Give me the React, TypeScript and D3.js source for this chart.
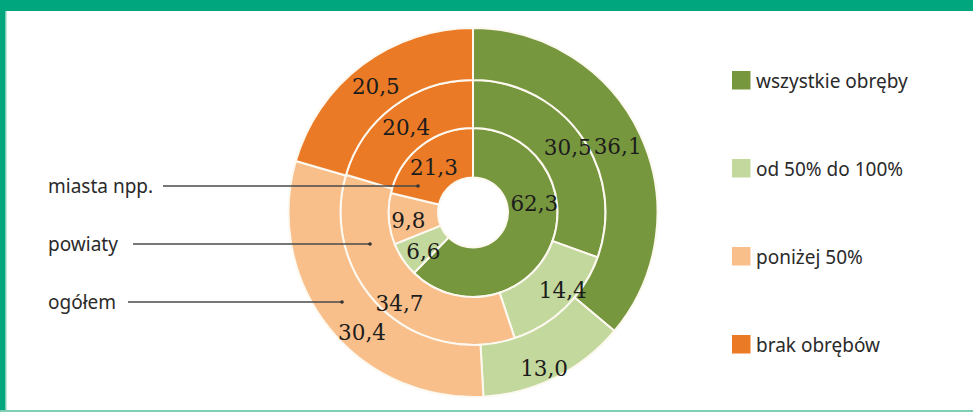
import React from "react";
import * as d3 from "d3";

const categories = ["wszystkie obręby", "od 50% do 100%", "poniżej 50%", "brak obrębów"];
const ringNames = ["miasta npp.", "powiaty", "ogółem"];
const miastaValues = [62.3, 6.6, 9.8, 21.3];
const powiatyValues = [30.5, 14.4, 34.7, 20.4];
const ogolemValues = [36.1, 13.0, 30.4, 20.5];
const colors = ["#77973f", "#c3d89d", "#f8bf8b", "#eb7a26"];

const W = 973;
const H = 412;
const cx = 473;
const cy = 212.5;
const radii = [35, 84.5, 132.5, 184.5];
// label nudges (px) by ring / slice, relative to arc centroid
const nudges: [number, number][][] = [
  [[6, -32], [0, 6], [-5, 3], [-2, 2]],
  [[6, -3], [14, 0], [2, 13], [-2, 2]],
  [[1, 1], [0, 14], [13, 21], [-2, 1]],
];

const fmt = (v: number) => v.toFixed(1).replace(".", ",");

export default function App() {
  const rings = [miastaValues, powiatyValues, ogolemValues];
  const pie = d3
    .pie<number>()
    .sort(null)
    .value((d) => d)
    .startAngle(0)
    .endAngle(2 * Math.PI);

  const leftLabels = [
    { name: ringNames[0], y: 186, x1: 163, x2: 418 },
    { name: ringNames[1], y: 244, x1: 133, x2: 370 },
    { name: ringNames[2], y: 302, x1: 128, x2: 342 },
  ];

  const legendY = d3.scalePoint<string>().domain(categories).range([80, 344]);

  return (
    <div style={{ position: "absolute", left: 0, top: 0 }}>
      <svg width={W} height={H} style={{ display: "block" }}>
        <rect x={0} y={0} width={W} height={H} fill="#ffffff" />
        <rect x={0} y={0} width={W} height={11} fill="#00a67e" />
        <rect x={0} y={0} width={5} height={H} fill="#00a67e" />
        <rect x={5} y={11} width={1.5} height={H - 11} fill="#7fcfb4" />
        <rect x={0} y={H - 2} width={W} height={2} fill="#7fcfb4" />

        <g transform={`translate(${cx},${cy})`}>
          {rings.map((vals, ri) => {
            const arc = d3
              .arc<d3.PieArcDatum<number>>()
              .innerRadius(radii[ri])
              .outerRadius(radii[ri + 1]);
            return (
              <g key={ri}>
                {pie(vals).map((a, i) => (
                  <path
                    key={i}
                    d={arc(a) || ""}
                    fill={colors[i]}
                    stroke="#fdf9f0"
                    strokeWidth={2}
                  />
                ))}
              </g>
            );
          })}
          {rings.map((vals, ri) => {
            const arc = d3
              .arc<d3.PieArcDatum<number>>()
              .innerRadius(radii[ri])
              .outerRadius(radii[ri + 1]);
            return (
              <g key={"l" + ri}>
                {pie(vals).map((a, i) => {
                  const [x, y] = arc.centroid(a);
                  const [dx, dy] = nudges[ri][i];
                  return (
                    <text
                      key={i}
                      x={x + dx}
                      y={y + dy}
                      textAnchor="middle"
                      dominantBaseline="central"
                      fontFamily="'DejaVu Serif', serif"
                      fontSize={21.5}
                      fill="#1c1c1c"
                    >
                      {fmt(a.data)}
                    </text>
                  );
                })}
              </g>
            );
          })}
        </g>

        {leftLabels.map((l) => (
          <g key={l.name}>
            <text
              x={48}
              y={l.y}
              dominantBaseline="central"
              fontFamily="'Noto Sans', sans-serif"
              fontSize={19}
              fill="#2a2a2a"
            >
              {l.name}
            </text>
            <line x1={l.x1} x2={l.x2} y1={l.y} y2={l.y} stroke="#4a4a4a" strokeWidth={1.3} />
            <circle cx={l.x2} cy={l.y} r={1.8} fill="#333" />
          </g>
        ))}

        {categories.map((c, i) => (
          <g key={c}>
            <rect x={732} y={(legendY(c) || 0) - 9} width={18.5} height={18.5} fill={colors[i]} />
            <text
              x={756}
              y={(legendY(c) || 0) + 1}
              dominantBaseline="central"
              fontFamily="'Noto Sans', sans-serif"
              fontSize={19}
              fill="#2a2a2a"
            >
              {c}
            </text>
          </g>
        ))}
      </svg>
    </div>
  );
}
